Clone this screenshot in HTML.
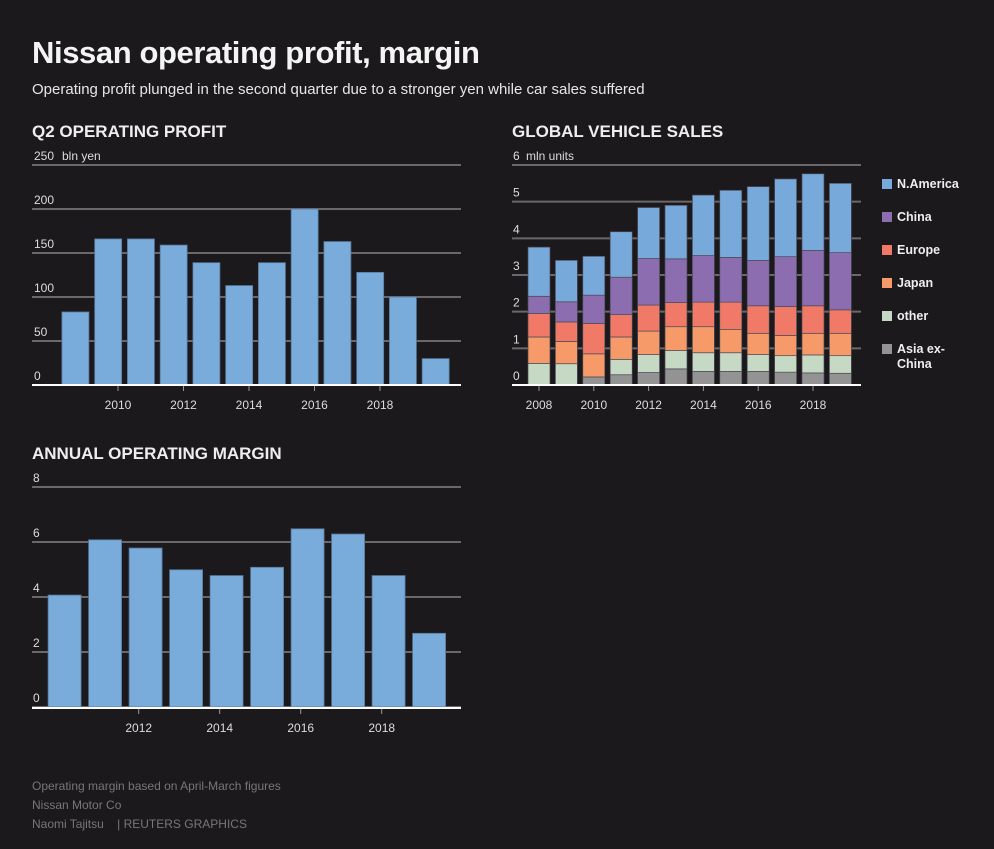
<!DOCTYPE html>
<html><head><meta charset="utf-8">
<style>
body{margin:0;background:#1b191c;width:994px;height:849px;overflow:hidden;font-family:"Liberation Sans",sans-serif;color:#eee}
svg{position:absolute;left:0;top:0}
</style></head>
<body>
<svg id="chart" width="994" height="849">
<text x="32" y="63" font-size="31" font-weight="900" fill="#f4f4f4" letter-spacing="-0.4">Nissan operating profit, margin</text>
<text x="32" y="94" font-size="15" fill="#e6e6e6">Operating profit plunged in the second quarter due to a stronger yen while car sales suffered</text>
<text x="32" y="137" font-size="17" font-weight="bold" fill="#eee">Q2 OPERATING PROFIT</text>
<text x="512" y="137" font-size="17" font-weight="bold" fill="#eee">GLOBAL VEHICLE SALES</text>
<text x="32" y="459" font-size="17" font-weight="bold" fill="#eee">ANNUAL OPERATING MARGIN</text>
<text x="32" y="790" font-size="12" fill="#777">Operating margin based on April-March figures</text>
<text x="32" y="809" font-size="12" fill="#777">Nissan Motor Co</text>
<text x="32" y="828" font-size="12" fill="#777" style="white-space:pre">Naomi Tajitsu    | REUTERS GRAPHICS</text>
<g id="g1"></g><g id="g2"></g><g id="g3"></g>
</svg>
<script>
const q2Years=[2008,2009,2010,2011,2012,2013,2014,2015,2016,2017,2018,2019];
const q2Profit=[83,166,166,159,139,113,139,200,163,128,100,30];
const q2Ticks=[0,50,100,150,200,250];
const q2XTicks=[2010,2012,2014,2016,2018];

const salesYears=[2008,2009,2010,2011,2012,2013,2014,2015,2016,2017,2018,2019];
const salesAsia=[0,0,0.22,0.28,0.34,0.44,0.37,0.37,0.37,0.35,0.33,0.32];
const salesOther=[0.59,0.58,0,0.42,0.49,0.50,0.51,0.51,0.46,0.45,0.49,0.48];
const salesJapan=[0.72,0.61,0.63,0.61,0.64,0.65,0.71,0.63,0.58,0.55,0.59,0.61];
const salesEurope=[0.64,0.53,0.83,0.61,0.71,0.66,0.67,0.75,0.75,0.79,0.75,0.64];
const salesChina=[0.47,0.55,0.77,1.02,1.27,1.19,1.27,1.22,1.24,1.36,1.51,1.56];
const salesNAmerica=[1.34,1.13,1.06,1.24,1.39,1.46,1.65,1.83,2.01,2.12,2.09,1.89];
const salesTicks=[0,1,2,3,4,5,6];
const salesXTicks=[2008,2010,2012,2014,2016,2018];
const seriesNames=["Asia ex-China","other","Japan","Europe","China","N.America"];

const marginYears=[2010,2011,2012,2013,2014,2015,2016,2017,2018,2019];
const marginValues=[4.07,6.08,5.78,4.99,4.78,5.08,6.48,6.29,4.78,2.68];
const marginTicks=[0,2,4,6,8];
const marginXTicks=[2012,2014,2016,2018];

const NS="http://www.w3.org/2000/svg";
function mk(p,tag,attrs){const e=document.createElementNS(NS,tag);for(const k in attrs)e.setAttribute(k,attrs[k]);p.appendChild(e);return e;}
function txt(p,x,y,s,attrs){const t=mk(p,'text',Object.assign({x:x,y:y,'font-size':12,fill:'#ddd'},attrs||{}));t.textContent=s;return t;}

(function(){
 const g=document.getElementById('g1');
 const y0=385,y1=165,max=250;const ys=v=>y0-(v/max)*(y0-y1);
 const xs=t=>118+(t-2010)*32.75;
 q2Ticks.forEach(v=>{const l=mk(g,'line',{x1:32,x2:461,y1:ys(v),y2:ys(v),stroke:'#6a686a','stroke-width':2});
 
 const t=txt(g,34,ys(v)-5,String(v));});
 const u=txt(g,62,ys(250)-5,'bln yen');
 q2Years.forEach((y,i)=>{const c=xs(y+0.7);const r=mk(g,'rect',{x:c-13.5,y:ys(q2Profit[i]),width:27,height:y0-ys(q2Profit[i]),fill:'#79abdb',stroke:'#56789a','stroke-width':0.8});
 });
 const a=mk(g,'line',{x1:32,x2:461,y1:y0,y2:y0,stroke:'#fff','stroke-width':2});
 q2XTicks.forEach(t=>{mk(g,'line',{x1:xs(t),x2:xs(t),y1:386,y2:391,stroke:'#999'});const l=txt(g,xs(t),409,String(t),{'text-anchor':'middle'});
 });
})();

(function(){
 const g=document.getElementById('g2');
 const y0=385,y1=165,max=6;const ys=v=>y0-(v/max)*(y0-y1);
 const xs=t=>539+(t-2008)*27.4;
 salesTicks.forEach(v=>{const l=mk(g,'line',{x1:512,x2:861,y1:ys(v),y2:ys(v),stroke:'#6a686a','stroke-width':2});
 
 const t=txt(g,513,ys(v)-5,String(v));});
 const u=txt(g,526,ys(6)-5,'mln units');
 const series=[salesAsia,salesOther,salesJapan,salesEurope,salesChina,salesNAmerica];
 const colors=['#939393','#c5d9c5','#f59a68','#f07a67','#8b6db0','#77aadb'];
 salesYears.forEach((y,i)=>{let acc=0;const c=xs(y);
  series.forEach((s,k)=>{const v=s[i];if(v<=0)return;const top=ys(acc+v),bot=ys(acc);acc+=v;
   const r=mk(g,'rect',{x:c-11,y:top,width:22,height:bot-top,fill:colors[k],stroke:'#4a4a55','stroke-width':0.7});
   });});
 const a=mk(g,'line',{x1:512,x2:861,y1:y0,y2:y0,stroke:'#fff','stroke-width':2});
 salesXTicks.forEach(t=>{mk(g,'line',{x1:xs(t),x2:xs(t),y1:386,y2:391,stroke:'#999'});const l=txt(g,xs(t),409,String(t),{'text-anchor':'middle'});
 });
 const legY=[184,217,250,283,316,349];
 for(let k=5;k>=0;k--){const yy=legY[5-k];
  const r=mk(g,'rect',{x:882,y:yy-5,width:10,height:10,fill:colors[k]});
  const name=seriesNames[k];
  if(name==='Asia ex-China'){const t=txt(g,897,yy+4,'Asia ex-',{'font-weight':'bold','font-size':12.5,fill:'#eee'});
   const t2=txt(g,897,yy+19,'China',{'font-weight':'bold','font-size':12.5,fill:'#eee'});}
  else{const t=txt(g,897,yy+4,name,{'font-weight':'bold','font-size':12.5,fill:'#eee'});}
 }
})();

(function(){
 const g=document.getElementById('g3');
 const y0=707,y1=487,max=8;const ys=v=>y0-(v/max)*(y0-y1);
 const xs=t=>138.7+(t-2012)*40.5;
 marginTicks.forEach(v=>{const l=mk(g,'line',{x1:32,x2:461,y1:ys(v),y2:ys(v),stroke:'#6a686a','stroke-width':2});
 
 const t=txt(g,33,ys(v)-5,String(v));});
 marginYears.forEach((y,i)=>{const c=xs(y+0.17);const r=mk(g,'rect',{x:c-16.5,y:ys(marginValues[i]),width:33,height:y0-ys(marginValues[i]),fill:'#79abdb',stroke:'#56789a','stroke-width':0.8});
 });
 const a=mk(g,'line',{x1:32,x2:461,y1:y0+1,y2:y0+1,stroke:'#fff','stroke-width':2});
 marginXTicks.forEach(t=>{mk(g,'line',{x1:xs(t),x2:xs(t),y1:709,y2:714,stroke:'#999'});const l=txt(g,xs(t),732,String(t),{'text-anchor':'middle'});
 });
})();
</script>
</body></html>
